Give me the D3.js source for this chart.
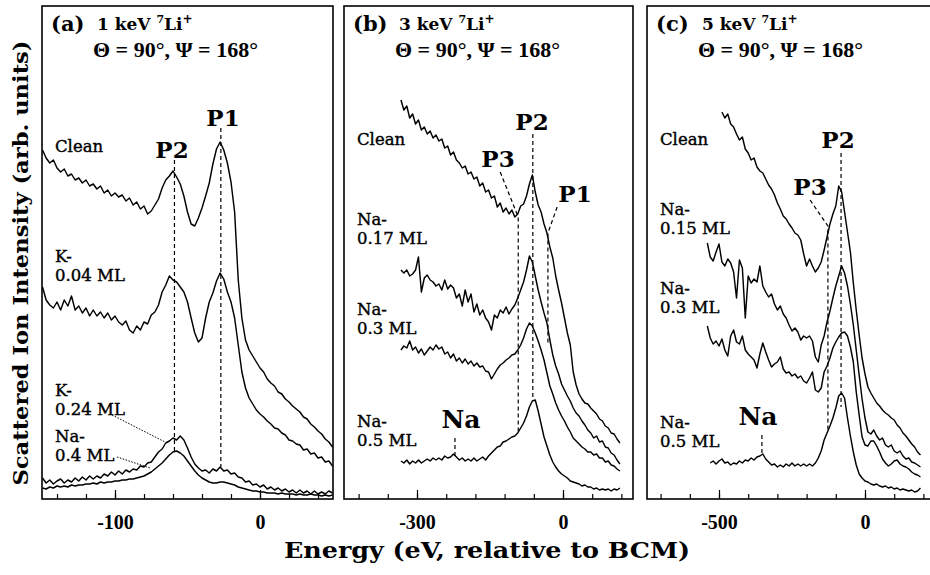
<!DOCTYPE html>
<html>
<head>
<meta charset="utf-8">
<script src="https://cdn.jsdelivr.net/npm/d3@7"></script>
<style>
  html, body { margin: 0; padding: 0; background: #fff; }
  svg { display: block; }
</style>
</head>
<body>
<svg id="chart" width="930" height="575"></svg>
<script>
// ---------------- Energy grids (eV, relative to BCM) ----------------
const energyA = [-150,-147.5,-145,-142.5,-140,-137.5,-135,-132.5,-130,-127.5,-125,-122.5,-120,-117.5,-115,-112.5,-110,-107.5,-105,-102.5,-100,-97.5,-95,-92.5,-90,-87.5,-85,-82.5,-80,-77.5,-75,-72.5,-70,-67.5,-65,-62.5,-60,-57.5,-55,-52.5,-50,-47.5,-45,-42.5,-40,-37.5,-35,-32.5,-30,-27.5,-25,-22.5,-20,-17.5,-15,-12.5,-10,-7.5,-5,-2.5,0,2.5,5,7.5,10,12.5,15,17.5,20,22.5,25,27.5,30,32.5,35,37.5,40,42.5,45,47.5,50];
const energyB = [-333,-327,-321,-315,-309,-303,-297,-291,-285,-279,-273,-267,-261,-255,-249,-243,-237,-231,-225,-219,-213,-207,-201,-195,-189,-183,-177,-171,-165,-159,-153,-147,-141,-135,-129,-123,-117,-111,-105,-99,-93,-87,-81,-75,-69,-63,-57,-51,-45,-39,-33,-27,-21,-15,-9,-3,3,9,15,21,27,33,39,45,51,57,63,69,75,81,87,93,99,105,111,117];
const energyC = [-540,-530,-520,-510,-500,-490,-480,-470,-460,-450,-440,-430,-420,-410,-400,-390,-380,-370,-360,-350,-340,-330,-320,-310,-300,-290,-280,-270,-260,-250,-240,-230,-220,-210,-200,-190,-180,-170,-160,-150,-140,-130,-120,-110,-100,-90,-80,-70,-60,-50,-40,-30,-20,-10,0,10,20,30,40,50,60,70,80,90,100,110,120,130,140,150,160,170,180,190];

// ---------------- (a) 1 keV 7Li+ spectra (offset, arb. units) ----------------
const cleanA = [349,341,336,339,331,327,330,323,325,319,321,316,319,313,315,310,313,306,309,303,306,302,304,298,301,294,297,290,293,285,288,294,300,311,319,323,328,322,315,303,287,275,273,281,291,303,316,335,350,357,349,336,317,287,219,181,159,149,143,137,131,127,120,116,113,107,105,100,97,93,90,87,82,80,75,72,68,65,60,57,52];
const k004A = [212,199,194,191,197,189,199,193,203,189,193,186,191,183,189,183,187,181,186,179,183,177,174,178,169,166,173,169,177,175,184,187,194,207,214,223,219,217,212,207,197,181,166,157,161,181,197,206,218,226,220,207,197,181,154,127,111,101,95,89,85,82,78,75,71,70,66,64,59,58,55,54,49,50,45,46,41,42,37,38,33];
const k024A = [21,16,19,15,18,20,16,19,17,21,18,22,19,23,20,23,21,25,23,27,24,28,25,29,27,30,29,33,32,36,37,42,47,50,56,58,61,59,63,59,51,42,35,31,28,29,26,30,28,32,28,29,25,26,22,21,17,18,14,15,12,14,10,12,9,11,8,10,7,9,6,9,6,8,5,8,5,7,5,8,6];
const na04A = [11,10,12,11,13,12,13,12,14,13,14,14,15,15,16,15,17,16,17,17,18,18,19,19,20,20,21,22,23,25,27,30,33,36,40,44,47,48,46,43,38,33,28,24,21,19,17,16,16,17,17,16,15,14,12,11,10,9,8,8,7,7,6,6,6,5,6,5,5,5,4,5,4,4,5,4,4,3,4,3,4];

// ---------------- (b) 3 keV 7Li+ spectra ----------------
const cleanB = [399,389,393,381,385,375,379,369,372,365,368,361,364,358,360,351,353,344,347,339,336,331,333,325,327,320,322,313,316,307,309,301,303,292,296,287,291,285,289,282,285,293,295,303,315,324,307,294,287,275,266,252,241,223,209,196,181,166,154,127,114,105,100,96,95,91,88,85,80,78,73,71,66,65,60,56];
const na017B = [229,226,229,223,225,229,242,207,221,224,219,217,213,215,209,219,210,214,211,201,205,193,209,197,205,187,195,184,189,181,177,169,184,181,189,186,192,185,190,194,201,209,217,229,243,237,223,209,197,186,176,159,144,133,125,115,109,103,98,91,86,83,78,74,69,66,61,63,57,58,52,51,46,44,39,35];
const na03B = [149,153,151,158,149,152,146,150,144,148,152,149,154,150,152,145,147,141,145,138,141,136,140,135,138,133,136,132,133,128,127,120,125,130,134,136,139,141,144,145,149,154,161,170,176,173,166,158,149,139,126,113,105,96,89,83,78,72,67,61,58,55,52,50,47,47,44,45,41,41,37,38,34,33,30,28];
const na05B = [38,36,39,35,38,36,39,36,38,40,38,41,39,41,39,43,41,42,45,42,39,41,38,40,38,41,38,40,42,39,43,46,49,52,53,57,58,60,62,63,66,71,76,83,92,98,99,88,75,62,53,44,37,32,28,25,23,21,18,17,16,15,13,14,12,12,10,11,9,10,9,10,8,10,9,11];

// ---------------- (c) 5 keV 7Li+ spectra ----------------
const cleanC = [null,null,null,null,null,387,381,385,375,372,365,359,362,350,346,339,341,332,328,326,320,314,310,304,296,290,283,280,275,271,266,264,259,245,233,240,233,227,231,237,249,262,275,285,293,313,307,287,267,247,216,189,164,141,125,112,106,101,96,93,89,86,84,81,79,74,71,66,63,59,55,52,47,44];
const na015C = [256,242,238,247,255,237,233,240,236,227,201,239,231,181,223,216,220,217,233,213,207,202,205,195,189,193,185,181,174,168,171,167,159,163,161,163,158,142,137,154,163,177,188,201,213,223,233,226,213,195,174,149,124,100,81,67,65,69,63,59,61,54,52,54,48,46,48,43,40,41,37,36,34,32];
const na03C = [173,161,155,158,153,160,149,143,163,169,157,155,163,149,145,142,139,131,145,156,147,139,132,135,137,142,130,126,127,123,125,121,123,118,116,121,127,109,107,111,127,133,141,151,157,162,166,167,163,152,137,107,84,62,54,53,58,58,53,47,40,36,33,35,38,39,35,33,32,30,27,25,24,22];
const na05C = [null,36,38,35,38,40,36,37,34,36,35,38,36,39,38,41,39,42,43,45,40,37,34,35,32,34,32,35,33,36,33,35,33,35,33,35,33,36,41,48,59,66,73,81,91,103,106,101,81,63,47,34,25,21,18,17,15,14,15,13,12,13,11,12,10,11,9,10,9,8,9,7,8,11];

// ---------------- Axis ticks ----------------
const ticksA = [-140,-120,-100,-80,-60,-40,-20,0,20,40];
const ticksB = [-420,-360,-300,-240,-180,-120,-60,0,60,120];
const ticksC = [-700,-600,-500,-400,-300,-200,-100,0,100,200];
const labelTicksA = [-100, 0];
const labelTicksB = [-300, 0];
const labelTicksC = [-500, 0];

// ---------------- Peak guides: polylines of [E, I] ----------------
const guidesA = [[[-59, 339], [-59, 46]], [[-27, 371], [-27, 32]]];
const guidesB = [[[-62, 365], [-62, 99]], [[-129, 327], [-92, 282], [-92, 66]], [[-12, 292], [-31, 266], [-31, 156]], [[-222, 61], [-222, 43]]];
const guidesC = [[[-82, 346], [-82, 92]], [[-188, 299], [-127, 273], [-127, 69]], [[-353, 64], [-353, 44]]];
// dotted leaders from coverage labels to their curves in (a)
const leadersA = [[[-102, 84], [-65.5, 57]], [[-98.6, 42], [-75.9, 31]]];

// ---------------- Text ----------------
const panelLetters = ["(a)", "(b)", "(c)"];
const beamEnergies = ["1 keV", "3 keV", "5 keV"];
const geometryText = "\u0398 = 90\u00b0, \u03a8 = 168\u00b0";
const curveLabelsA = [[["Clean"], 152], [["K-", "0.04 ML"], 262], [["K-", "0.24 ML"], 396], [["Na-", "0.4 ML"], 442]];
const curveLabelsB = [[["Clean"], 145], [["Na-", "0.17 ML"], 225], [["Na-", "0.3 ML"], 315], [["Na-", "0.5 ML"], 427]];
const curveLabelsC = [[["Clean"], 145], [["Na-", "0.15 ML"], 215], [["Na-", "0.3 ML"], 294], [["Na-", "0.5 ML"], 428]];
const peakLabelsA = [["P2", 172, 158], ["P1", 223, 126]];
const peakLabelsB = [["P3", 498, 167], ["P2", 532, 130], ["P1", 575, 202], ["Na", 461, 428]];
const peakLabelsC = [["P3", 810, 195], ["P2", 838, 148], ["Na", 758, 425]];

// ---------------- Layout ----------------
const frameTop = 6, frameBottom = 499;
const serif = "'DejaVu Serif', 'Liberation Serif', serif";
const times = "'Liberation Serif', 'Times New Roman', serif";

const svg = d3.select("#chart");
const y = d3.scaleLinear().domain([0, 500]).range([frameBottom, frameBottom - 500]);

const panels = [
  { x: d3.scaleLinear().domain([-100, 0]).range([115, 260]), left: 42, right: 333,
    energy: energyA, curves: [cleanA, k004A, k024A, na04A], ticks: ticksA, labelTicks: labelTicksA,
    guides: guidesA, leaders: leadersA, curveLabels: curveLabelsA, peakLabels: peakLabelsA },
  { x: d3.scaleLinear().domain([-300, 0]).range([417, 563]), left: 344, right: 633,
    energy: energyB, curves: [cleanB, na017B, na03B, na05B], ticks: ticksB, labelTicks: labelTicksB,
    guides: guidesB, leaders: [], curveLabels: curveLabelsB, peakLabels: peakLabelsB },
  { x: d3.scaleLinear().domain([-500, 0]).range([719, 865]), left: 647, right: 938,
    energy: energyC, curves: [cleanC, na015C, na03C, na05C], ticks: ticksC, labelTicks: labelTicksC,
    guides: guidesC, leaders: [], curveLabels: curveLabelsC, peakLabels: peakLabelsC }
];

panels.forEach((p, pi) => {
  const g = svg.append("g");
  const line = d3.line()
    .defined(d => d[1] != null)
    .x(d => p.x(d[0]))
    .y(d => y(d[1]));

  // frame
  g.append("rect")
    .attr("x", p.left).attr("y", frameTop)
    .attr("width", p.right - p.left).attr("height", frameBottom - frameTop)
    .attr("fill", "none").attr("stroke", "#000").attr("stroke-width", 1.6);

  // spectra
  p.curves.forEach(c => {
    g.append("path")
      .datum(p.energy.map((e, i) => [e, c[i]]))
      .attr("d", line)
      .attr("fill", "none").attr("stroke", "#000")
      .attr("stroke-width", 1.45).attr("stroke-linejoin", "round");
  });

  // dashed peak guides
  const gl = d3.line().x(d => p.x(d[0])).y(d => y(d[1]));
  p.guides.forEach(gd => {
    g.append("path").attr("d", gl(gd))
      .attr("fill", "none").attr("stroke", "#000")
      .attr("stroke-width", 1.2).attr("stroke-dasharray", "4,3");
  });
  p.leaders.forEach(ld => {
    g.append("path").attr("d", gl(ld))
      .attr("fill", "none").attr("stroke", "#000")
      .attr("stroke-width", 1).attr("stroke-dasharray", "1.5,1.5");
  });

  // bottom axis: inward minor and major ticks
  const minorAxis = d3.axisBottom(p.x).tickValues(p.ticks).tickSize(-5).tickFormat("");
  const majorAxis = d3.axisBottom(p.x).tickValues(p.labelTicks).tickSize(-9)
    .tickPadding(16).tickFormat(d => String(d));
  const ga = g.append("g").attr("transform", `translate(0,${frameBottom})`);
  ga.call(minorAxis);
  ga.select(".domain").remove();
  ga.selectAll("line").attr("stroke", "#000").attr("stroke-width", 1.2);
  const gm = g.append("g").attr("transform", `translate(0,${frameBottom})`);
  gm.call(majorAxis);
  gm.select(".domain").remove();
  gm.selectAll("line").attr("stroke", "#000").attr("stroke-width", 1.2);
  gm.selectAll("text").attr("font-family", times).attr("font-size", 20)
    .attr("font-weight", "bold").attr("fill", "#000").attr("dy", "0.71em");

  // title lines
  g.append("text").attr("x", p.left + 9).attr("y", 31)
    .attr("font-family", serif).attr("font-weight", "bold").attr("font-size", 21)
    .text(panelLetters[pi]);
  const t = g.append("text").attr("x", p.left + 55).attr("y", 30)
    .attr("font-family", serif).attr("font-weight", "bold").attr("font-size", 17);
  t.append("tspan").text(beamEnergies[pi] + " ");
  t.append("tspan").attr("font-size", 11).attr("dy", -7).text("7");
  t.append("tspan").attr("dy", 7).text("Li");
  t.append("tspan").attr("font-size", 12).attr("dy", -7).text("+");
  g.append("text").attr("x", p.left + 51).attr("y", 57)
    .attr("font-family", times).attr("font-weight", "bold").attr("font-size", 22)
    .text(geometryText);

  // coverage labels
  p.curveLabels.forEach(([lines, y0]) => {
    lines.forEach((s, k) => {
      g.append("text").attr("x", p.left + 13).attr("y", y0 + k * 19)
        .attr("font-family", serif).attr("font-size", 16.5).attr("fill", "#000")
        .attr("stroke", "#000").attr("stroke-width", 0.4)
        .text(s);
    });
  });

  // peak labels
  p.peakLabels.forEach(([s, lx, ly]) => {
    g.append("text").attr("x", lx).attr("y", ly).attr("text-anchor", "middle")
      .attr("font-family", serif).attr("font-weight", "bold")
      .attr("font-size", s === "Na" ? 25 : 23)
      .text(s);
  });
});

// axis titles
svg.append("text")
  .attr("transform", "translate(28,263) rotate(-90)")
  .attr("text-anchor", "middle")
  .attr("font-family", serif).attr("font-weight", "bold").attr("font-size", 20)
  .attr("textLength", 445).attr("lengthAdjust", "spacingAndGlyphs")
  .text("Scattered Ion Intensity (arb. units)");
svg.append("text")
  .attr("x", 487).attr("y", 558)
  .attr("text-anchor", "middle")
  .attr("font-family", serif).attr("font-weight", "bold").attr("font-size", 23)
  .attr("textLength", 406).attr("lengthAdjust", "spacingAndGlyphs")
  .text("Energy (eV, relative to BCM)");
</script>
</body>
</html>
